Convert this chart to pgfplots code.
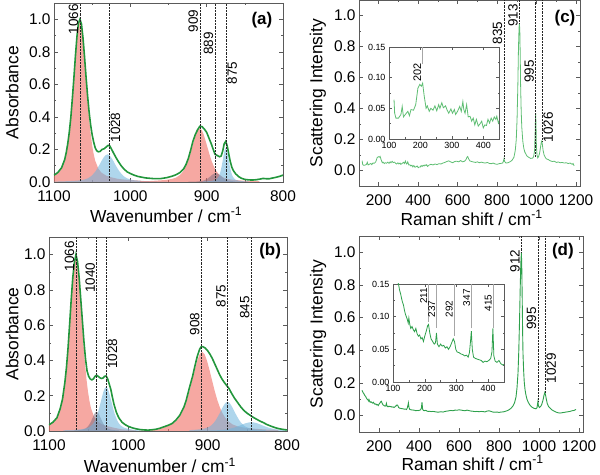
\documentclass[border=0pt]{standalone}
\usepackage{fontspec}
\setmainfont{Liberation Sans}
\usepackage{pgfplots}
\usepackage{pgfplotstable}
\pgfplotsset{compat=1.18}
\definecolor{gA}{RGB}{34,150,60}
\definecolor{gC}{RGB}{95,190,115}
\definecolor{gD}{RGB}{45,160,75}
\definecolor{redf}{RGB}{240,110,100}
\definecolor{bluef}{RGB}{110,180,220}
\definecolor{grayf}{RGB}{120,105,125}
\definecolor{frm}{RGB}{90,90,90}

\pgfplotstableread[row sep=\\]{x y\\
116 .064\\ 118 .042\\ 122 .034\\ 130 .034\\ 138 .04\\ 142 .053\\ 146 .036\\ 155 .042\\ 160 .045\\ 165 .038\\ 170 .048\\ 178 .047\\ 185 .056\\ 192 .083\\ 198 .089\\ 203 .086\\ 207 .091\\ 212 .07\\ 218 .05\\ 222 .054\\ 228 .045\\ 233 .05\\ 240 .047\\ 246 .054\\ 252 .046\\ 258 .056\\ 262 .05\\ 268 .059\\ 273 .051\\ 280 .054\\ 285 .047\\ 290 .042\\ 297 .049\\ 302 .042\\ 308 .048\\ 312 .04\\ 318 .045\\ 325 .053\\ 330 .045\\ 335 .061\\ 338 .048\\ 342 .042\\ 347 .056\\ 352 .036\\ 358 .037\\ 363 .029\\ 368 .034\\ 373 .023\\ 378 .032\\ 384 .021\\ 390 .025\\ 395 .029\\ 400 .018\\ 405 .023\\ 410 .022\\ 415 .032\\ 420 .026\\ 425 .034\\ 430 .029\\ 435 .036\\ 440 .032\\ 443 .037\\ 448 .026\\ 455 .035\\ 465 .04\\ 475 .036\\ 485 .042\\ 495 .038\\ 505 .044\\ 515 .042\\ 525 .048\\ 535 .052\\ 545 .058\\ 555 .062\\ 565 .055\\ 575 .05\\ 585 .058\\ 595 .06\\ 605 .056\\ 615 .064\\ 625 .056\\ 635 .06\\ 642 .07\\ 647 .085\\ 651 .09\\ 656 .074\\ 662 .062\\ 670 .058\\ 680 .055\\ 690 .052\\ 700 .056\\ 710 .05\\ 720 .054\\ 730 .05\\ 740 .048\\ 750 .052\\ 760 .046\\ 770 .044\\ 780 .048\\ 790 .042\\ 800 .04\\ 810 .044\\ 820 .046\\ 828 .048\\ 832 .06\\ 835 .078\\ 838 .058\\ 845 .048\\ 855 .05\\ 865 .056\\ 875 .065\\ 885 .085\\ 892 .13\\ 897 .2\\ 901 .33\\ 905 .55\\ 908 .78\\ 911 .92\\ 913 .95\\ 915 .9\\ 917 .75\\ 919 .55\\ 922 .38\\ 925 .28\\ 930 .19\\ 935 .145\\ 940 .12\\ 950 .095\\ 960 .085\\ 970 .078\\ 980 .08\\ 985 .09\\ 990 .13\\ 993 .26\\ 995 .37\\ 997 .3\\ 999 .16\\ 1002 .1\\ 1006 .082\\ 1010 .09\\ 1015 .11\\ 1020 .15\\ 1024 .185\\ 1026 .19\\ 1029 .17\\ 1033 .13\\ 1038 .1\\ 1045 .082\\ 1050 .075\\ 1060 .07\\ 1070 .062\\ 1080 .058\\ 1090 .06\\ 1100 .052\\ 1110 .055\\ 1120 .05\\ 1130 .052\\ 1140 .048\\ 1150 .05\\ 1160 .045\\ 1170 .048\\ 1180 .04\\ 1185 .045\\ 1190 .03\\
}\datac

\pgfplotstableread[row sep=\\]{x y\\
115 .155\\ 118 .148\\ 121 .14\\ 124 .135\\ 127 .128\\ 130 .122\\ 133 .118\\ 136 .11\\ 139 .104\\ 142 .1\\ 145 .096\\ 148 .09\\ 150 .098\\ 153 .088\\ 156 .082\\ 160 .085\\ 164 .08\\ 168 .077\\ 172 .082\\ 176 .074\\ 180 .07\\ 184 .072\\ 188 .066\\ 192 .068\\ 196 .062\\ 200 .07\\ 205 .078\\ 209 .086\\ 212 .088\\ 216 .075\\ 220 .066\\ 225 .062\\ 230 .058\\ 234 .06\\ 237 .075\\ 240 .058\\ 245 .054\\ 250 .058\\ 255 .055\\ 260 .056\\ 265 .052\\ 270 .054\\ 275 .05\\ 280 .054\\ 285 .06\\ 290 .066\\ 294 .062\\ 298 .05\\ 302 .046\\ 308 .045\\ 314 .043\\ 320 .042\\ 326 .04\\ 332 .041\\ 337 .038\\ 341 .045\\ 344 .06\\ 347 .078\\ 350 .05\\ 354 .038\\ 360 .036\\ 366 .035\\ 372 .034\\ 378 .033\\ 384 .03\\ 390 .032\\ 396 .031\\ 402 .033\\ 408 .036\\ 412 .046\\ 415 .082\\ 418 .04\\ 422 .032\\ 428 .03\\ 434 .033\\ 440 .028\\ 446 .026\\ 452 .027\\ 460 .025\\ 470 .026\\ 480 .024\\ 490 .022\\ 500 .022\\ 510 .024\\ 520 .022\\ 530 .026\\ 540 .028\\ 550 .03\\ 560 .032\\ 570 .03\\ 580 .034\\ 590 .033\\ 600 .036\\ 610 .034\\ 620 .032\\ 630 .03\\ 640 .034\\ 650 .031\\ 660 .028\\ 670 .027\\ 680 .025\\ 690 .026\\ 700 .024\\ 710 .026\\ 720 .025\\ 730 .023\\ 740 .028\\ 750 .03\\ 760 .026\\ 770 .022\\ 780 .021\\ 790 .022\\ 800 .02\\ 810 .022\\ 820 .023\\ 830 .026\\ 840 .03\\ 850 .036\\ 860 .045\\ 870 .06\\ 878 .08\\ 885 .115\\ 890 .17\\ 895 .26\\ 899 .4\\ 903 .6\\ 906 .78\\ 909 .93\\ 912 1.0\\ 914 .9\\ 916 .72\\ 918 .52\\ 920 .38\\ 923 .28\\ 926 .21\\ 930 .16\\ 935 .125\\ 940 .1\\ 947 .08\\ 955 .064\\ 965 .052\\ 975 .045\\ 985 .042\\ 990 .048\\ 993 .075\\ 995 .09\\ 997 .06\\ 1002 .05\\ 1008 .056\\ 1014 .07\\ 1020 .095\\ 1025 .125\\ 1029 .142\\ 1032 .13\\ 1036 .105\\ 1041 .075\\ 1048 .055\\ 1056 .045\\ 1065 .035\\ 1075 .028\\ 1085 .022\\ 1095 .018\\ 1105 .016\\ 1115 .018\\ 1125 .02\\ 1135 .022\\ 1145 .024\\ 1155 .026\\ 1165 .03\\ 1175 .032\\ 1180 .035\\ 1185 .038\\
}\datad

\tikzset{
  lbl/.style={rotate=90, font=\fontsize{13.5}{14}\selectfont, inner sep=1.5bp},
  ilbl/.style={rotate=90, font=\fontsize{10}{11}\selectfont, inner sep=1bp},
  pl/.style={font=\bfseries\fontsize{17}{18}\selectfont},
}
\pgfplotsset{
  base/.style={scale only axis, anchor=south west,
    axis line style={frm, line width=0.6pt},
    tick style={frm, line width=0.5pt},
    tick align=inside, major tick length=4bp, minor tick length=2.2bp, minor tick num=1,
    tick label style={font=\fontsize{15.5}{17}\selectfont},
    label style={font=\fontsize{17.5}{20}\selectfont},
    /pgf/number format/assume math mode=true,
    /pgf/number format/1000 sep={},
    xticklabel style={yshift=-5bp},
    yticklabel style={/pgf/number format/.cd, fixed, fixed zerofill, precision=1},
  },
  absp/.style={base, x dir=reverse, xmin=800, xmax=1100, ymin=0, ymax=1.1,
    xtick={800,900,1000,1100}, ytick={0,0.2,0.4,0.6,0.8,1.0},
    xlabel={Wavenumber / cm\textsuperscript{-1}}, ylabel={Absorbance}},
  ram/.style={base, xmin=100, xmax=1220, ymin=-0.1, ymax=1.1,
    xtick={200,400,600,800,1000,1200}, ytick={0,0.2,0.4,0.6,0.8,1.0},
    xlabel={Raman shift / cm\textsuperscript{-1}}, ylabel={Scattering Intensity}},
  ins/.style={scale only axis, anchor=south west, xmin=100, xmax=450, ymin=0, ymax=0.15,
    xtick={100,200,300,400}, ytick={0,0.05,0.10,0.15}, minor tick num=1,
    axis line style={frm, line width=0.5pt}, tick style={frm, line width=0.4pt},
    tick align=inside, major tick length=3bp, minor tick length=1.5bp,
    tick label style={font=\fontsize{9}{10}\selectfont},
    /pgf/number format/assume math mode=true,
    yticklabel style={/pgf/number format/.cd, fixed, fixed zerofill, precision=2},
    axis background/.style={fill=white}},
  rf/.style={draw=none, fill=redf, fill opacity=0.6},
  bf/.style={draw=none, fill=bluef, fill opacity=0.55},
  gf/.style={draw=none, fill=grayf, fill opacity=0.5},
  vl/.style={black!85, densely dotted, line width=0.45pt},
  il/.style={gray!70, line width=0.5pt},
}

\begin{document}
\begin{tikzpicture}
\useasboundingbox (0,0) rectangle (600bp,475bp);

% ---------------- (a)
\begin{axis}[absp, at={(54bp,293bp)}, width=229bp, height=179bp,
  xlabel style={at={(axis description cs:0.49,-0.184)}, anchor=center},
  ylabel style={at={(axis description cs:-0.183,0.5)}, anchor=center}]
\addplot[rf] coordinates {(986,.008)(1006,.014)(1016,.019)(1026,.030)(1032,.040)(1038,.058)(1042,.083)(1046,.131)(1048,.171)(1050,.225)(1052,.298)(1054,.389)(1056,.5)(1058,.626)(1060,.757)(1062,.878)(1064,.967)(1066,1.0)(1068,.967)(1070,.878)(1072,.757)(1074,.626)(1076,.5)(1078,.389)(1080,.298)(1082,.225)(1084,.171)(1086,.131)(1090,.083)(1094,.058)(1100,.040)(1106,.030)} \closedcycle;
\addplot[bf] coordinates {(952,.002)(965,.003)(978,.005)(985.8,.007)(993.6,.010)(998.8,.014)(1004,.022)(1006.6,.029)(1009.2,.038)(1011.8,.051)(1014.4,.066)(1017,.085)(1019.6,.106)(1022.2,.129)(1024.8,.149)(1027.4,.164)(1030,.17)(1032.6,.164)(1035.2,.149)(1037.8,.129)(1040.4,.106)(1043,.085)(1045.6,.066)(1048.2,.051)(1050.8,.038)(1053.4,.029)(1056,.022)(1061.2,.014)(1066.4,.010)(1074.2,.007)(1082,.005)(1095,.003)(1108,.002)} \closedcycle;
\addplot[rf] coordinates {(831,.005)(844,.006)(857,.010)(864.8,.013)(872.6,.019)(877.8,.027)(883,.043)(885.6,.056)(888.2,.074)(890.8,.098)(893.4,.128)(896,.165)(898.6,.207)(901.2,.250)(903.8,.290)(906.4,.319)(909,.33)(911.6,.319)(914.2,.290)(916.8,.250)(919.4,.207)(922,.165)(924.6,.128)(927.2,.098)(929.8,.074)(932.4,.056)(935,.043)(940.2,.027)(945.4,.019)(953.2,.013)(961,.010)(974,.006)(987,.005)} \closedcycle;
\addplot[gf] coordinates {(852,.002)(857.4,.002)(862.8,.003)(866.4,.005)(870,.007)(871.8,.009)(873.6,.012)(875.4,.016)(877.2,.021)(879,.0275)(880.8,.034)(882.6,.042)(884.4,.048)(886.2,.053)(888,.055)(889.8,.053)(891.6,.048)(893.4,.042)(895.2,.034)(897,.0275)(898.8,.021)(900.6,.016)(902.4,.012)(904.2,.009)(906,.007)(909.6,.005)(913.2,.003)(918.6,.002)(924,.002)} \closedcycle;
\addplot[bf] coordinates {(845,.003)(850,.004)(855,.006)(858,.008)(861,.012)(863,.017)(865,.028)(866,.036)(867,.047)(868,.063)(869,.082)(870,.105)(871,.131)(872,.159)(873,.184)(874,.203)(875,.21)(876,.203)(877,.184)(878,.159)(879,.131)(880,.105)(881,.082)(882,.063)(883,.047)(884,.036)(885,.028)(887,.017)(889,.012)(892,.008)(895,.006)(900,.004)(905,.003)} \closedcycle;
\addplot[gA, line width=1.6bp] coordinates {(800,.042)(805,.034)(810,.028)(814,.024)(818,.02)(822,.02)(826,.022)(830,.018)(835,.014)(840,.012)(845,.013)(850,.016)(855,.024)(858,.033)(862,.05)(865,.07)(867,.09)(869,.125)(871,.17)(873,.22)(875,.25)(877,.235)(879,.19)(881,.16)(883,.155)(885,.16)(887,.165)(889,.17)(891,.195)(894,.235)(897,.27)(900,.305)(903,.325)(906,.34)(909,.342)(912,.32)(915,.29)(918,.25)(921,.195)(924,.145)(927,.108)(930,.082)(935,.058)(940,.045)(945,.036)(952,.027)(960,.021)(970,.021)(980,.025)(990,.034)(995,.042)(1000,.052)(1004,.062)(1008,.078)(1012,.1)(1016,.128)(1019,.152)(1022,.178)(1025,.205)(1027,.222)(1029,.225)(1031,.218)(1034,.205)(1037,.2)(1040,.187)(1042,.186)(1044,.192)(1046,.21)(1048,.245)(1050,.29)(1052,.35)(1054,.43)(1056,.53)(1058,.645)(1060,.77)(1062,.885)(1064,.97)(1066,1.0)(1068,.975)(1070,.89)(1072,.77)(1074,.635)(1076,.51)(1078,.395)(1080,.305)(1082,.235)(1084,.18)(1086,.138)(1090,.088)(1095,.058)(1100,.042)};
\addplot[vl] coordinates {(1066,0)(1066,1.1)};
\addplot[vl] coordinates {(1028,0)(1028,1.1)};
\addplot[vl] coordinates {(909,0)(909,1.1)};
\addplot[vl] coordinates {(889,0)(889,1.1)};
\addplot[vl] coordinates {(875,0)(875,1.1)};
\node[lbl, anchor=south] at (axis cs:1066,1.0) {1066};
\node[lbl, anchor=north] at (axis cs:1028,0.335) {1028};
\node[lbl, anchor=south] at (axis cs:909,0.99) {909};
\node[lbl, anchor=south] at (axis cs:889,0.85) {889};
\node[lbl, anchor=north] at (axis cs:875,0.67) {875};
\node[pl] at (rel axis cs:0.908,0.905) {(a)};
\end{axis}

% ---------------- (b)
\begin{axis}[absp, at={(49bp,44bp)}, width=238bp, height=194bp,
  xlabel style={at={(axis description cs:0.466,-0.176)}, anchor=center},
  ylabel style={at={(axis description cs:-0.155,0.5)}, anchor=center}]
\addplot[rf] coordinates {(990,.003)(1009,.01)(1018.5,.019)(1028,.029)(1033.7,.039)(1039.4,.057)(1043.2,.081)(1047,.128)(1048.9,.168)(1050.8,.221)(1052.7,.292)(1054.6,.381)(1056.5,.49)(1058.4,.613)(1060.3,.742)(1062.2,.860)(1064.1,.948)(1066,.98)(1067.9,.948)(1069.8,.860)(1071.7,.742)(1073.6,.613)(1075.5,.49)(1077.4,.381)(1079.3,.292)(1081.2,.221)(1083.1,.168)(1085,.128)(1088.8,.081)(1092.6,.057)(1098.3,.035)(1104,.025)} \closedcycle;
\addplot[gf] coordinates {(1012,.003)(1016.2,.004)(1020.4,.006)(1023.2,.009)(1026,.014)(1027.4,.019)(1028.8,.025)(1030.2,.033)(1031.6,.043)(1033,.055)(1034.4,.069)(1035.8,.083)(1037.2,.097)(1038.6,.106)(1040,.11)(1041.4,.106)(1042.8,.097)(1044.2,.083)(1045.6,.069)(1047,.055)(1048.4,.043)(1049.8,.033)(1051.2,.025)(1052.6,.019)(1054,.014)(1056.8,.009)(1059.6,.006)(1063.8,.004)(1068,.003)} \closedcycle;
\addplot[bf] coordinates {(974,.001)(983,.002)(992,.006)(997.4,.010)(1002.8,.015)(1006.4,.021)(1010,.033)(1011.8,.043)(1013.6,.056)(1015.4,.075)(1017.2,.097)(1019,.125)(1020.8,.157)(1022.6,.189)(1024.4,.22)(1026.2,.242)(1028,.25)(1029.8,.242)(1031.6,.22)(1033.4,.189)(1035.2,.157)(1037,.125)(1038.8,.097)(1040.6,.075)(1042.4,.056)(1044.2,.043)(1046,.033)(1049.6,.021)(1053.2,.015)(1058.6,.010)(1064,.008)(1073,.005)(1082,.004)} \closedcycle;
\addplot[rf] coordinates {(811,.0063)(827,.0086)(843,.0135)(852.6,.018)(862.2,.026)(868.6,.037)(875,.059)(878.2,.077)(881.4,.101)(884.6,.134)(887.8,.175)(891,.225)(894.2,.282)(897.4,.341)(900.6,.395)(903.8,.435)(907,.45)(910.2,.435)(913.4,.395)(916.6,.341)(919.8,.282)(923,.225)(926.2,.175)(929.4,.134)(932.6,.101)(935.8,.077)(939,.059)(945.4,.037)(951.8,.026)(961.4,.01)(971,.004)(987,.001)} \closedcycle;
\addplot[bf] coordinates {(827,.005)(834.2,.007)(841.4,.010)(846.2,.014)(851,.022)(853.4,.028)(855.8,.037)(858.2,.049)(860.6,.064)(863,.083)(865.4,.103)(867.8,.125)(870.2,.145)(872.6,.160)(875,.165)(877.4,.160)(879.8,.145)(882.2,.125)(884.6,.103)(887,.083)(889.4,.064)(891.8,.049)(894.2,.037)(896.6,.028)(899,.022)(903.8,.014)(908.6,.010)(915.8,.007)(923,.005)} \closedcycle;
\addplot[bf] coordinates {(773,.0015)(783.8,.002)(794.6,.0029)(801.8,.0042)(809,.0066)(812.6,.0086)(816.2,.011)(819.8,.015)(823.4,.019)(827,.025)(830.6,.031)(834.2,.038)(837.8,.044)(841.4,.048)(845,.05)(848.6,.048)(852.2,.044)(855.8,.038)(859.4,.031)(863,.025)(866.6,.019)(870.2,.015)(873.8,.011)(877.4,.0086)(881,.0066)(888.2,.0042)(895.4,.0029)(906.2,.002)(917,.0015)} \closedcycle;
\addplot[gA, line width=1.6bp] coordinates {(800,.006)(805,.009)(810,.013)(815,.019)(820,.027)(825,.036)(830,.048)(834,.056)(838,.066)(842,.076)(846,.088)(850,.1)(854,.115)(858,.135)(862,.16)(866,.185)(870,.215)(873,.24)(876,.258)(879,.275)(882,.295)(885,.32)(888,.35)(891,.38)(894,.41)(897,.435)(900,.455)(903,.47)(906,.478)(908,.478)(910,.465)(913,.425)(916,.37)(919,.31)(923,.245)(927,.175)(930,.135)(935,.09)(940,.062)(945,.042)(950,.032)(955,.024)(960,.016)(965,.01)(970,.007)(975,.005)(980,.006)(985,.008)(990,.012)(995,.018)(1000,.026)(1004,.036)(1008,.05)(1012,.075)(1015,.105)(1018,.15)(1020,.19)(1022,.235)(1024,.265)(1026,.295)(1028,.312)(1030,.31)(1032,.3)(1034,.298)(1036,.302)(1038,.31)(1040,.316)(1042,.31)(1044,.295)(1046,.29)(1048,.295)(1050,.31)(1052,.34)(1054,.41)(1056,.51)(1058,.63)(1060,.75)(1062,.87)(1064,.96)(1066,1.0)(1068,.955)(1070,.87)(1072,.745)(1074,.605)(1076,.47)(1078,.36)(1080,.275)(1083,.18)(1086,.125)(1090,.075)(1095,.05)(1100,.035)};
\addplot[vl] coordinates {(1066,0)(1066,1.1)};
\addplot[vl] coordinates {(1040,0)(1040,1.1)};
\addplot[vl] coordinates {(1028,0)(1028,1.1)};
\addplot[vl] coordinates {(908,0)(908,1.1)};
\addplot[vl] coordinates {(875,0)(875,1.1)};
\addplot[vl] coordinates {(845,0)(845,1.1)};
\node[lbl, anchor=south] at (axis cs:1066,0.99) {1066};
\node[lbl, anchor=south] at (axis cs:1040,0.87) {1040};
\node[lbl, anchor=north] at (axis cs:1028,0.437) {1028};
\node[lbl, anchor=south] at (axis cs:908,0.606) {908};
\node[lbl, anchor=south] at (axis cs:875,0.765) {875};
\node[lbl, anchor=south] at (axis cs:845,0.70) {845};
\node[pl] at (rel axis cs:0.929,0.927) {(b)};
\end{axis}

% ---------------- (c)
\begin{axis}[ram, at={(359bp,289bp)}, width=221bp, height=186bp,
  xlabel style={at={(axis description cs:0.51,-0.172)}, anchor=center},
  ylabel style={at={(axis description cs:-0.186,0.5)}, anchor=center}]
\addplot[gC, line width=0.8bp] table[x=x, y=y] {\datac};
\addplot[vl] coordinates {(835,0.08)(835,1.1)};
\addplot[vl] coordinates {(913,0.95)(913,1.1)};
\addplot[vl] coordinates {(995,0.09)(995,1.1)};
\addplot[vl] coordinates {(1026,0.19)(1026,1.1)};
\node[lbl, anchor=south] at (axis cs:835,0.886) {835};
\node[lbl, anchor=south] at (axis cs:913,1.0) {913};
\node[lbl, anchor=south] at (axis cs:995,0.64) {995};
\node[lbl, anchor=north] at (axis cs:1026,0.28) {1026};
\node[pl] at (rel axis cs:0.932,0.903) {(c)};
\end{axis}

\begin{axis}[ins, at={(389bp,336bp)}, width=110bp, height=92bp]
\addplot[gC, line width=0.8bp] table[x=x, y=y] {\datac};
\addplot[il] coordinates {(206,0.122)(206,0.15)};
\node[ilbl, font=\fontsize{11}{12}\selectfont, anchor=south] at (axis cs:206,0.108) {202};
\end{axis}

% ---------------- (d)
\begin{axis}[ram, at={(359bp,43bp)}, width=224bp, height=196bp,
  xlabel style={at={(axis description cs:0.507,-0.158)}, anchor=center, inner sep=1bp},
  ylabel style={at={(axis description cs:-0.183,0.5)}, anchor=center}]
\addplot[gD, line width=0.9bp] table[x=x, y=y] {\datad};
\addplot[vl] coordinates {(912,1.0)(912,1.1)};
\addplot[vl] coordinates {(995,0.09)(995,1.1)};
\addplot[vl] coordinates {(1029,0.14)(1029,1.1)};
\node[lbl, anchor=south] at (axis cs:912,0.947) {912};
\node[lbl, anchor=south] at (axis cs:995,0.594) {995};
\node[lbl, anchor=north] at (axis cs:1029,0.29) {1029};
\node[pl] at (rel axis cs:0.91,0.923) {(d)};
\end{axis}

\begin{axis}[ins, at={(393bp,93bp)}, width=111bp, height=98bp]
\addplot[gD, line width=0.8bp] table[x=x, y=y] {\datad};
\addplot[il] coordinates {(211,0.092)(211,0.15)};
\addplot[il] coordinates {(237,0.083)(237,0.15)};
\addplot[il] coordinates {(292,0.071)(292,0.15)};
\addplot[il] coordinates {(347,0.082)(347,0.15)};
\addplot[il] coordinates {(415,0.083)(415,0.15)};
\node[ilbl, anchor=south] at (axis cs:211,0.132) {211};
\node[ilbl, anchor=south] at (axis cs:237,0.112) {237};
\node[ilbl, anchor=south] at (axis cs:292,0.112) {292};
\node[ilbl, anchor=south] at (axis cs:347,0.129) {347};
\node[ilbl, anchor=south] at (axis cs:415,0.121) {415};
\end{axis}
\end{tikzpicture}
\end{document}
